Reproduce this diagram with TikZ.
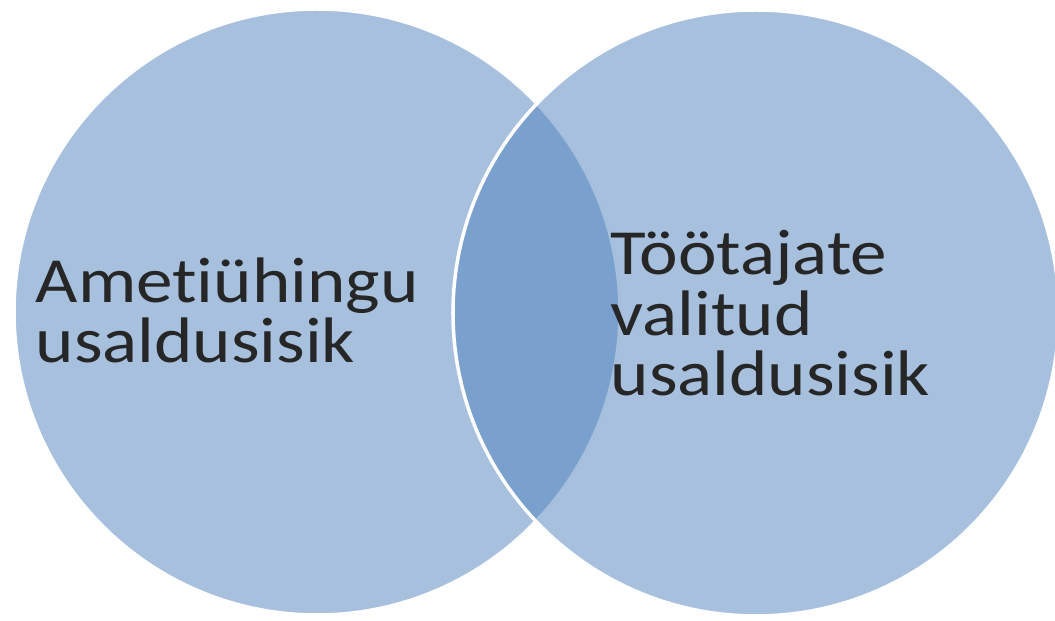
\documentclass[tikz,border=0pt]{standalone}
\usepackage{fontspec}
\setmainfont{Carlito}[Ligatures=NoCommon]
\definecolor{vennblue}{RGB}{79,129,189}

\begin{document}
\begin{tikzpicture}[
    venn/.style={circle, fill=vennblue, fill opacity=.5, draw=white,
      line width=1pt, minimum size=6.06cm, inner sep=0pt},
    venntext/.style={align=left, inner sep=0pt, text=black!85,
      yscale=.88, transform shape,
      font=\fontsize{20.8}{19.7}\selectfont}
  ]
  \useasboundingbox (0,0) rectangle (10.55,6.21);
  % circles
  \node[venn] (leftset) at (3.17,3.09) {};
  \node[venn] (rightset) at (7.56,3.08) {};
  % labels (base = last line)
  \node[venntext, anchor=base west] (lefttext) at (0.35,2.58)
    {Ametiühingu\\usaldusisik};
  \node[venntext, anchor=base west] (righttext) at (6.10,2.25)
    {Töötajate\\valitud\\usaldusisik};
\end{tikzpicture}
\end{document}
